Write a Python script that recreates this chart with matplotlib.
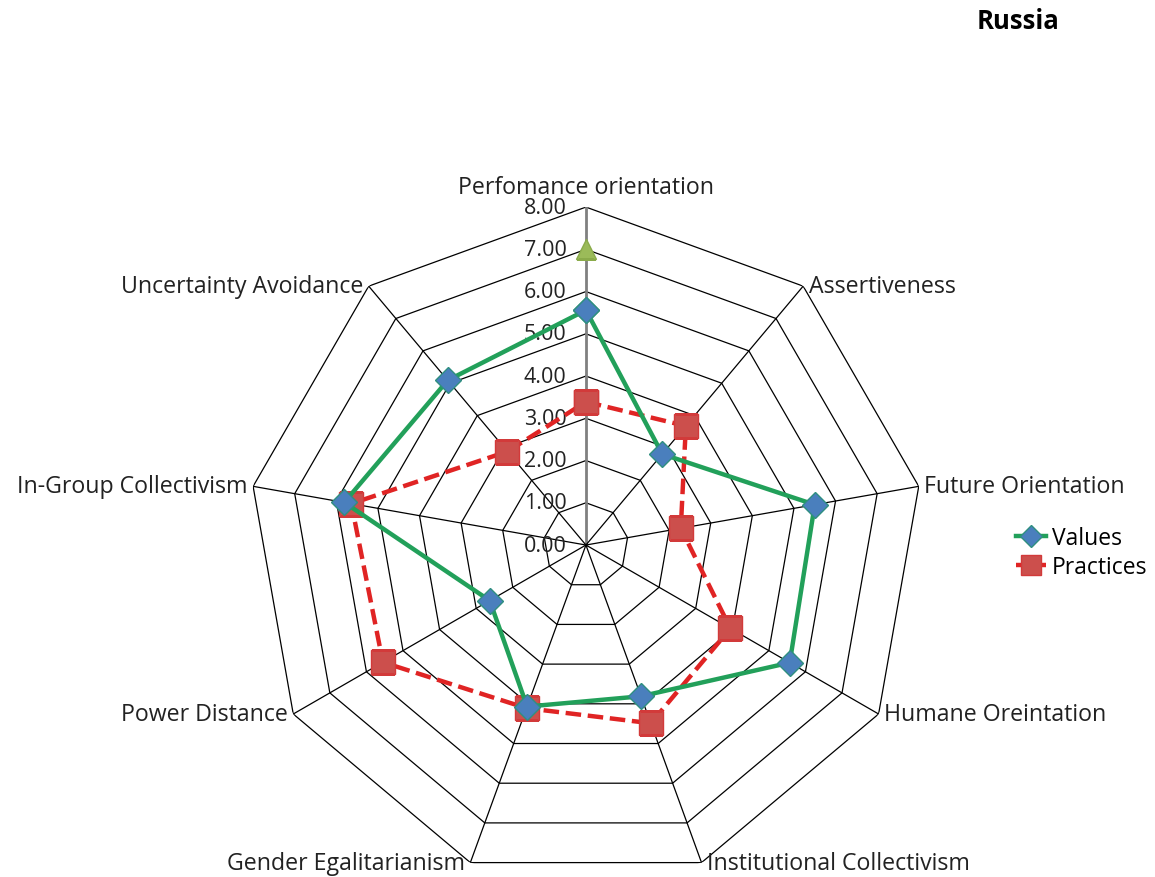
import matplotlib.pyplot as plt
import numpy as np

plt.rcParams['font.family'] = ['Open Sans', 'DejaVu Sans']

categories = ['Perfomance orientation', 'Assertiveness', 'Future Orientation',
              'Humane Oreintation', 'Institutional Collectivism', 'Gender Egalitarianism',
              'Power Distance', 'In-Group Collectivism', 'Uncertainty Avoidance']
values = [5.56, 2.81, 5.50, 5.57, 3.81, 4.07, 2.63, 5.81, 5.09]
practices = [3.39, 3.68, 2.28, 3.95, 4.49, 4.11, 5.55, 5.64, 2.89]
# lone third point on the first axis
extra_cat = 0
extra_val = 7.0
rings = [1, 2, 3, 4, 5, 6, 7, 8]
tick_labels = ['0.00', '1.00', '2.00', '3.00', '4.00', '5.00', '6.00', '7.00', '8.00']

n = len(categories)
angles = np.arange(n) * 2 * np.pi / n

fig = plt.figure(figsize=(11.55, 8.78), dpi=100)
ax = fig.add_axes([0.2147, -0.0069, 0.5852, 0.770], projection='polar')
ax.set_theta_zero_location('N')
ax.set_theta_direction(-1)
ax.set_ylim(0, 8)
ax.grid(False)
ax.spines['polar'].set_visible(False)
ax.set_xticks([])
ax.set_yticks([])
ax.patch.set_alpha(0)

# polygon grid
closed = np.append(angles, angles[0])
for r in rings:
    ax.plot(closed, [r] * (n + 1), color='black', lw=0.9, zorder=1)
for i, a in enumerate(angles):
    if i == 0:
        ax.plot([a, a], [0, 8], color='#808080', lw=2, zorder=1)
    else:
        ax.plot([a, a], [0, 8], color='black', lw=0.9, zorder=1)

# value axis labels
for i, t in enumerate(tick_labels):
    ax.annotate(t, xy=(0, i), xytext=(-14, 0), textcoords='offset points',
                ha='right', va='center', fontsize=15.5, color='#222222', zorder=2)

# category labels
for a, c in zip(angles, categories):
    s = np.sin(a)
    if abs(s) < 1e-6:
        ha, va, off = 'center', 'bottom', (0, 6)
    elif s > 0:
        ha, va, off = 'left', 'center', (4, 0)
    else:
        ha, va, off = 'right', 'center', (-4, 0)
    ax.annotate(c, xy=(a, 8), xytext=off, textcoords='offset points',
                ha=ha, va=va, fontsize=16.7, color='#222222', annotation_clip=False)

v = np.append(values, values[0])
p = np.append(practices, practices[0])
ax.plot(closed, v, color='#22a05a', lw=3.2, marker='D', markersize=13,
        markerfacecolor='#4a7fbd', markeredgecolor='#2f8f80', markeredgewidth=1,
        label='Values', zorder=4)
ax.plot(closed, p, color='#e02424', lw=3.2, ls=(0, (3.5, 1.5)), marker='s', markersize=17,
        markerfacecolor='#cc4f4c', markeredgecolor='#d23a3a', markeredgewidth=1,
        label='Practices', zorder=3)
ax.plot([angles[extra_cat]], [extra_val], ls='none', marker='^', markersize=15,
        markerfacecolor='#9bbb59', markeredgecolor='#8aab4a', zorder=4)

fig.legend(loc='upper left', bbox_to_anchor=(0.872, 0.41), frameon=False,
           fontsize=16.5, handlelength=1.3, handletextpad=0.25, labelspacing=0.2,
           borderaxespad=0, markerscale=0.85)

fig.text(0.881, 0.975, 'Russia', fontsize=18.5, fontweight='bold', ha='center', va='center')

plt.savefig('out.png', dpi=100)
